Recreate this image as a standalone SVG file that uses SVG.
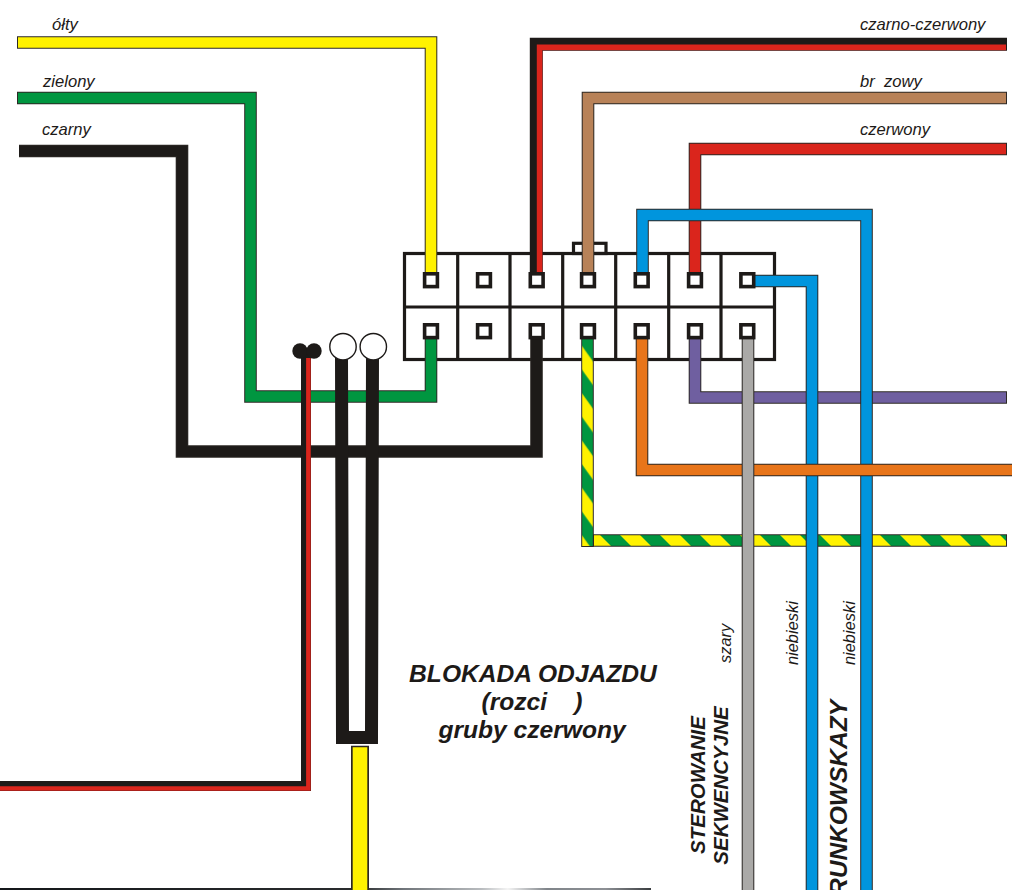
<svg xmlns="http://www.w3.org/2000/svg" width="1012" height="890" viewBox="0 0 1012 890">
  <style>
    .o{fill:none;stroke:#2c2825;stroke-width:12.6;stroke-miterlimit:10}
    .f{fill:none;stroke-width:10.6;stroke-miterlimit:10}
    .box{fill:none;stroke:#1d1a18;stroke-width:3.2}
    .term{fill:#fff;stroke:#1d1a18;stroke-width:3.6}
    text{font-family:"Liberation Sans",Arial,sans-serif;font-style:italic;fill:#1d1a18;white-space:pre}
    .lab{font-size:16.6px}
    .big{font-size:24.6px;font-weight:bold;text-anchor:middle}
    .mid{font-size:20.5px;font-weight:bold;text-anchor:middle}
    .side{font-size:16.4px}
  </style>
  <defs>
    <pattern id="stripes" width="40" height="40" patternUnits="userSpaceOnUse" patternTransform="translate(5 0)">
      <rect width="40" height="40" fill="#009640"/>
      <polygon points="0,0 20,0 40,20 40,40" fill="#fff200"/>
      <polygon points="0,20 20,40 0,40" fill="#fff200"/>
    </pattern>
    <pattern id="stripes-v" x="581.7" y="369.3" width="12" height="47.33" patternUnits="userSpaceOnUse">
      <rect width="12" height="47.33" fill="#fff200"/>
      <polygon points="0,0 12,16.8 12,40.47 0,23.67" fill="#009640"/>
    </pattern>
    <linearGradient id="strip" x1="0" x2="1" y1="0" y2="0">
      <stop offset="0" stop-color="#14171a"/>
      <stop offset="0.55" stop-color="#2a2c2e"/>
      <stop offset="0.62" stop-color="#70757a"/>
      <stop offset="0.74" stop-color="#b9bcbf"/>
      <stop offset="0.78" stop-color="#f4f4f4"/>
      <stop offset="0.84" stop-color="#80858a"/>
      <stop offset="0.93" stop-color="#8d9095"/>
      <stop offset="1" stop-color="#3a3d40"/>
    </linearGradient>
  </defs>
  <rect width="1012" height="890" fill="#fff"/>

  <g id="connector-body">
    <rect class="box" x="404.5" y="253.5" width="370" height="106"/>
    <path class="box" d="M404.5 307H774.5M457.7 253.5V359.5M510 253.5V359.5M562.7 253.5V359.5M615.7 253.5V359.5M668.7 253.5V359.5M721 253.5V359.5"/>
    <rect class="box" x="573.5" y="243.3" width="32.5" height="10.2"/>
  </g>

  <rect id="bottom-strip" x="0" y="888" width="651" height="2" fill="url(#strip)"/>

  <g id="connectors">
    <g id="wire-green"><path class="o" d="M17 98H250.5V396.5H431V338"/><path class="f" style="stroke:#009640" d="M18 98H250.5V396.5H431V338"/></g>
    <g id="wire-black"><path class="o" d="M19 151H182V451.5H536.5V338"/><path class="f" style="stroke:#1d1a18" d="M19 151H182V451.5H536.5V338"/></g>
    <g id="wire-yellow"><path class="o" d="M17 42.5H431V272"/><path class="f" style="stroke:#fff200" d="M18 42.5H431V272"/></g>
    <g id="wire-black-red-top"><path fill="none" stroke="#1d1a18" stroke-width="13" stroke-miterlimit="10" d="M1007 44.3H536.3V272"/><path fill="none" stroke="#da251c" stroke-width="5.6" stroke-miterlimit="10" d="M1006 47.4H539.6V272"/></g>
    <g id="wire-brown"><path class="o" d="M1007 98H588V272"/><path class="f" style="stroke:#b88258" d="M1006 98H588V272"/></g>
    <g id="wire-red"><path class="o" d="M1007 149H695V272"/><path class="f" style="stroke:#da251c" d="M1006 149H695V272"/></g>
    <g id="wire-purple"><path class="o" d="M695 338V397.5H1007"/><path class="f" style="stroke:#6f5fa0" d="M695 338V397.5H1006"/></g>
    <g id="wire-stripe">
      <path class="o" d="M593 540.5H1007"/>
      <path class="f" stroke="url(#stripes)" d="M594 540.5H1006"/>
      <path class="o" d="M587.5 338V547"/>
      <path class="f" stroke="url(#stripes-v)" d="M587.5 338V546"/>
    </g>
    <g id="wire-blue-outer"><path class="o" d="M642.5 272V215H866.5V890"/><path class="f" style="stroke:#0095dd" d="M642.5 272V215H866.5V890"/></g>
    <g id="wire-blue-inner"><path class="o" d="M754 281H812V890"/><path class="f" style="stroke:#0095dd" d="M754 281H812V890"/></g>
    <g id="wire-orange"><path class="o" d="M642 338V470H1012"/><path class="f" style="stroke:#e8751a" d="M642 338V470H1012"/></g>
    <g id="wire-gray"><path class="o" d="M748 338V890"/><path class="f" style="stroke:#aaa9a7" d="M748 338V890"/></g>
    <g id="wire-black-red-left"><path fill="none" stroke="#1d1a18" stroke-width="10" stroke-miterlimit="10" d="M0 786H306V352"/><path fill="none" stroke="#da251c" stroke-width="4.6" stroke-miterlimit="10" d="M0 788.5H308.4V358"/></g>
    <g id="wire-u"><path fill="none" stroke="#1d1a18" stroke-width="13" stroke-miterlimit="10" d="M341.5 355L342.5 737.5H371.5L372.5 355"/></g>
    <g id="wire-yellow-lower"><path fill="none" stroke="#2c2825" stroke-width="18" d="M360 745.7V890"/><path fill="none" stroke="#fff200" stroke-width="14.6" d="M360 747.2V890"/></g>
  </g>

  <g id="terminals">
    <rect class="term" x="424.6" y="273.8" width="12.8" height="12.8"/>
    <rect class="term" x="477.6" y="273.8" width="12.8" height="12.8"/>
    <rect class="term" x="530.3" y="273.8" width="12.8" height="12.8"/>
    <rect class="term" x="581.6" y="273.8" width="12.8" height="12.8"/>
    <rect class="term" x="635.3" y="273.8" width="12.8" height="12.8"/>
    <rect class="term" x="688.6" y="273.8" width="12.8" height="12.8"/>
    <rect class="term" x="740.9" y="273.8" width="12.8" height="12.8"/>
    <rect class="term" x="424.6" y="324.8" width="12.8" height="12.8"/>
    <rect class="term" x="477.6" y="324.8" width="12.8" height="12.8"/>
    <rect class="term" x="530.3" y="324.8" width="12.8" height="12.8"/>
    <rect class="term" x="581.6" y="324.8" width="12.8" height="12.8"/>
    <rect class="term" x="635.3" y="324.8" width="12.8" height="12.8"/>
    <rect class="term" x="688.6" y="324.8" width="12.8" height="12.8"/>
    <rect class="term" x="740.9" y="324.8" width="12.8" height="12.8"/>
  </g>

  <g id="dot-left"><circle cx="300" cy="351" r="7.7" fill="#1d1a18"/></g>
  <g id="dot-right"><circle cx="314" cy="351" r="7.7" fill="#1d1a18"/></g>
  <g id="ring-left"><circle cx="343" cy="346.7" r="13.2" fill="#fff" stroke="#1d1a18" stroke-width="1.4"/></g>
  <g id="ring-right"><circle cx="373.3" cy="346.7" r="13.2" fill="#fff" stroke="#1d1a18" stroke-width="1.4"/></g>

  <g id="labels">
    <text class="lab" x="52" y="30">ółty</text>
    <text class="lab" x="43" y="87">zielony</text>
    <text class="lab" x="42" y="135">czarny</text>
    <text class="lab" x="860" y="30">czarno-czerwony</text>
    <text class="lab" x="860" y="87">br  zowy</text>
    <text class="lab" x="860" y="135">czerwony</text>
    <text class="big" x="533" y="682">BLOKADA ODJAZDU</text>
    <text class="big" x="532" y="710">(rozci    )</text>
    <text class="big" x="532" y="738">gruby czerwony</text>
    <text class="side" transform="translate(731 663) rotate(-90)">szary</text>
    <text class="side" transform="translate(798 665) rotate(-90)">niebieski</text>
    <text class="side" transform="translate(855 665) rotate(-90)">niebieski</text>
    <text class="mid" transform="translate(705 785) rotate(-90)">STEROWANIE</text>
    <text class="mid" transform="translate(728 785.5) rotate(-90)">SEKWENCYJNE</text>
    <text transform="translate(846.7 700) rotate(-90)" font-size="24.5" font-weight="bold" text-anchor="end">RUNKOWSKAZY</text>
  </g>
</svg>
